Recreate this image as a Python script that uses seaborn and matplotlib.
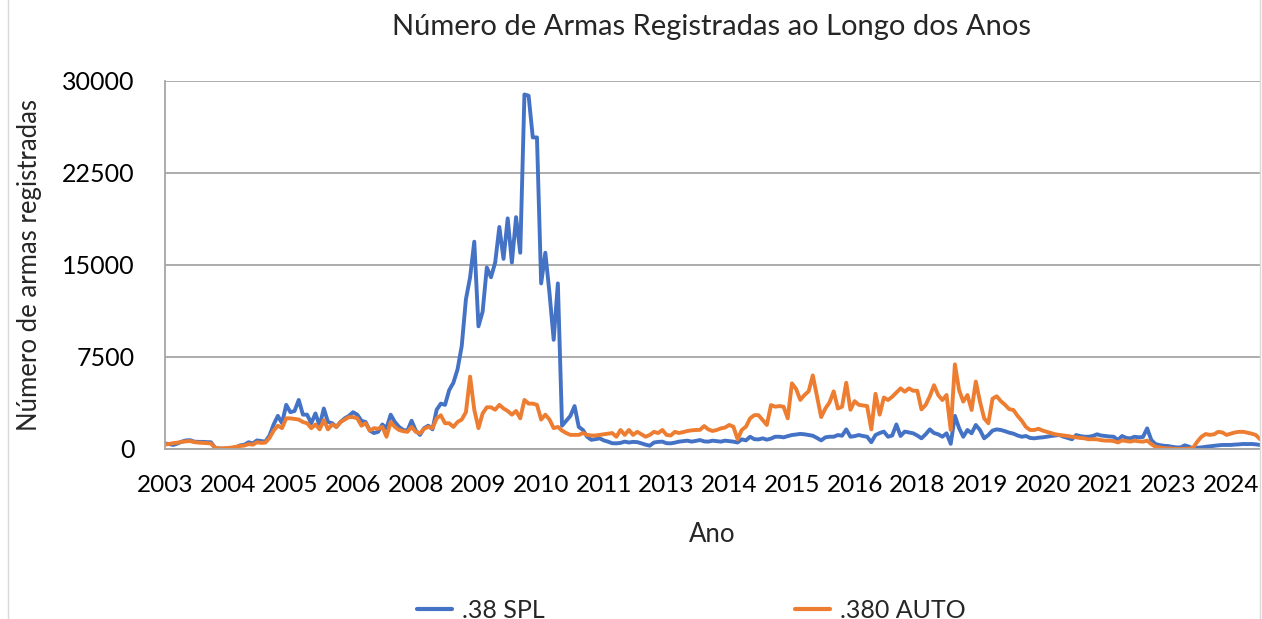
import pandas as pd
import matplotlib.pyplot as plt
import seaborn as sns
from matplotlib.patches import Rectangle

# --- Dados mensais (jan/2003 a nov/2024) ---
inicio = '2003-01'
spl_38 = [
    450, 400, 330, 450, 600, 700, 720, 600, 580, 580,
    560, 550, 80, 30, 20, 40, 80, 120, 300, 350,
    550, 450, 700, 650, 600, 1100, 2000, 2700, 2100, 3600,
    3000, 3100, 4000, 2800, 2800, 2100, 2900, 1900, 3300, 2200,
    2100, 1800, 2200, 2500, 2700, 3000, 2800, 2300, 2200, 1500,
    1300, 1400, 2000, 1700, 2800, 2200, 1800, 1550, 1500, 2300,
    1500, 1150, 1700, 1900, 1600, 3200, 3700, 3600, 4800, 5400,
    6500, 8400, 12200, 14000, 16900, 10000, 11200, 14800, 14000, 15200,
    18100, 15500, 18800, 15200, 18900, 16000, 28900, 28800, 25400, 25400,
    13500, 16000, 12700, 8900, 13500, 1900, 2300, 2700, 3500, 1800,
    1550, 1000, 750, 800, 870, 700, 600, 470, 460, 500,
    600, 530, 580, 560, 460, 350, 270, 530, 580, 600,
    470, 460, 520, 600, 640, 680, 600, 660, 730, 620,
    600, 680, 640, 600, 680, 640, 600, 530, 790, 700,
    1000, 800, 780, 870, 760, 850, 1000, 1000, 950, 1050,
    1140, 1180, 1230, 1200, 1140, 1080, 900, 700, 950, 1000,
    1000, 1140, 1080, 1600, 1000, 1050, 1140, 1060, 1000, 550,
    1140, 1300, 1420, 1000, 1100, 2000, 1060, 1420, 1350, 1280,
    1100, 870, 1200, 1600, 1300, 1200, 1000, 1280, 420, 2700,
    1700, 1000, 1550, 1280, 1960, 1550, 870, 1140, 1500, 1600,
    1550, 1450, 1330, 1250, 1100, 1000, 1060, 900, 870, 920,
    950, 1000, 1060, 1100, 1140, 1000, 900, 790, 1140, 1050,
    1000, 1000, 1060, 1200, 1100, 1060, 1020, 1000, 730, 1060,
    900, 870, 1000, 950, 980, 1680, 730, 400, 320, 260,
    240, 180, 130, 130, 300, 190, 50, 100, 130, 180,
    220, 260, 300, 330, 330, 330, 360, 380, 410, 400,
    410, 380, 330,
]
auto_380 = [
    350, 420, 480, 520, 580, 620, 650, 560, 520, 500,
    480, 450, 100, 50, 60, 80, 120, 180, 250, 280,
    400, 350, 550, 500, 520, 900, 1500, 1900, 1700, 2500,
    2500, 2450, 2400, 2200, 2100, 1700, 2000, 1600, 2350, 1600,
    2000, 1800, 2200, 2400, 2600, 2600, 2500, 1900, 2100, 1500,
    1700, 1650, 1800, 1000, 2200, 1800, 1550, 1450, 1400, 1800,
    1400, 1280, 1650, 1800, 1700, 2500, 2750, 2100, 2100, 1800,
    2200, 2400, 3000, 5900, 3200, 1700, 2900, 3400, 3400, 3200,
    3600, 3300, 3100, 2800, 3100, 2500, 4000, 3700, 3700, 3600,
    2400, 2800, 2400, 1700, 1800, 1500, 1300, 1150, 1150, 1150,
    1300, 1150, 1100, 1100, 1150, 1200, 1250, 1300, 1000, 1550,
    1150, 1550, 1150, 1400, 1200, 1000, 1150, 1400, 1300, 1550,
    1150, 1100, 1400, 1300, 1380, 1470, 1520, 1550, 1560, 1870,
    1600, 1470, 1550, 1680, 1750, 1960, 1820, 790, 1550, 1820,
    2500, 2760, 2760, 2360, 1960, 3580, 3450, 3500, 3450, 2500,
    5350, 4900, 4000, 4400, 4700, 6000, 4300, 2600, 3300, 3800,
    4700, 3300, 3450, 5400, 3200, 3900, 3600, 3550, 3500, 1600,
    4500, 2800, 4200, 3990, 4260, 4600, 4940, 4670, 4940, 4750,
    4750, 3230, 3590, 4300, 5200, 4400, 3990, 4400, 1550, 6900,
    4810, 3860, 4400, 3180, 5500, 3860, 2500, 2100, 4100, 4300,
    3900, 3600, 3250, 3180, 2700, 2300, 1800, 1550, 1550, 1650,
    1500, 1400, 1300, 1200, 1150, 1100, 1060, 1000, 950, 900,
    870, 790, 800, 790, 720, 680, 680, 650, 530, 700,
    650, 600, 680, 620, 600, 680, 400, 180, 120, 60,
    50, 20, 0, 0, 10, 20, 100, 600, 1000, 1220,
    1150, 1200, 1400, 1350, 1150, 1250, 1350, 1400, 1400, 1330,
    1250, 1140, 800,
]
series_nomes = ['.38 SPL', '.380 AUTO']
cores = ['#4472C4', '#ED7D31']
y_ticks = [0, 7500, 15000, 22500, 30000]
intervalo_rotulos = 15  # Excel mostra um rótulo a cada 15 categorias

datas = pd.date_range(inicio, periods=len(spl_38), freq='MS')
df = pd.DataFrame({'mes': range(len(datas)), 'data': datas,
                   series_nomes[0]: spl_38, series_nomes[1]: auto_380})
df_long = df.melt(id_vars=['mes', 'data'], var_name='calibre', value_name='armas')

# --- Gráfico ---
sns.set_style("white")
plt.rcParams['font.family'] = ['Lato', 'DejaVu Sans']

W, H = 1262, 619
fig = plt.figure(figsize=(W / 100, H / 100), dpi=100)
ax = fig.add_axes([165 / W, 170 / H, 1095 / W, 368 / H])

sns.lineplot(data=df_long, x='mes', y='armas', hue='calibre',
             hue_order=series_nomes, palette=cores, linewidth=2.8,
             ax=ax, legend=False)

ax.set_xlim(0, len(datas) - 1)
ax.set_ylim(0, 30000)
ax.set_yticks(y_ticks)
ax.set_yticklabels([str(v) for v in y_ticks])
pos = list(range(0, len(datas), intervalo_rotulos))
ax.set_xticks(pos)
ax.set_xticklabels([str(datas[p].year) for p in pos])
ax.tick_params(axis='x', length=0, pad=19, labelsize=17.5, colors='black')
ax.tick_params(axis='y', length=0, pad=22, labelsize=18, colors='black')
ax.grid(axis='y', color='#a6a6a6', linewidth=1.3)
ax.grid(axis='x', visible=False)
ax.set_axisbelow(True)
for lado in ['top', 'right']:
    ax.spines[lado].set_visible(False)
for lado in ['left', 'bottom']:
    ax.spines[lado].set_color('#a6a6a6')
    ax.spines[lado].set_linewidth(1.3)
ax.set_xlabel('')
ax.set_ylabel('')

fig.text(711 / W, 1 - 27 / H, 'Número de Armas Registradas ao Longo dos Anos',
         ha='center', va='center', fontsize=21)
fig.text(30 / W, 1 - 265 / H, 'Número de armas registradas', rotation=90,
         ha='center', va='center', fontsize=18.5)
fig.text(712 / W, 1 - 535 / H, 'Ano', ha='center', va='center', fontsize=18.5)

handles = [plt.Line2D([], [], color=c, linewidth=3) for c in cores]
fig.legend(handles, series_nomes, loc='center', ncol=2,
           bbox_to_anchor=(691 / W, 9 / H), frameon=False, fontsize=18,
           handlelength=1.4, handletextpad=0.4, columnspacing=10)

# moldura da área do gráfico
fig.patches.append(Rectangle((8 / W, -0.02), 1252 / W, 1.04, transform=fig.transFigure,
                             fill=False, edgecolor='#d9d9d9', linewidth=1))

plt.savefig('out.png', dpi=100)
